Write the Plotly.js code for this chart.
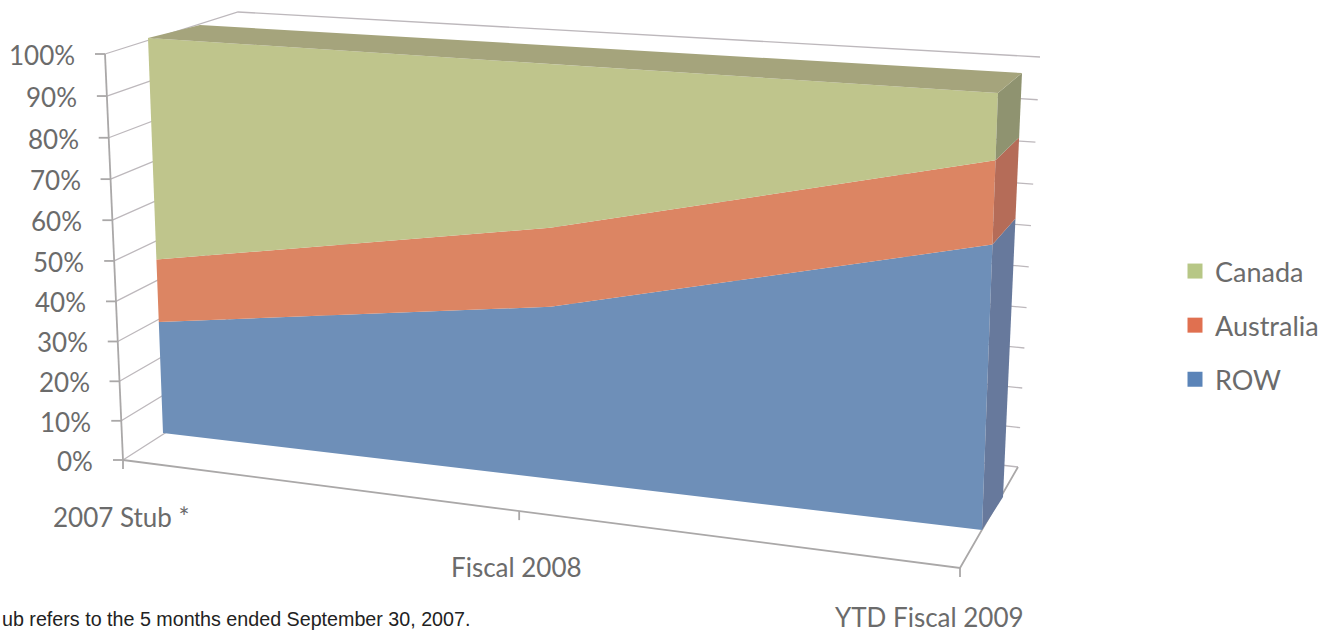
<!DOCTYPE html>
<html>
<head>
<meta charset="utf-8">
<script src="https://cdn.plot.ly/plotly-3.0.1.min.js"></script>
<style>html,body{margin:0;padding:0;background:#fff;overflow:hidden}</style>
</head>
<body>
<div id="chart" style="width:1338px;height:635px"></div>
<script>
// Share of revenue by region, percent of each period
const categories = ['2007 Stub *', 'Fiscal 2008', 'YTD Fiscal 2009'];
const row = [28.8, 42.4, 66.2];
const australia = [16, 19, 18.9];
const canada = [55.2, 38.6, 14.9];
const tickValues = [0, 10, 20, 30, 40, 50, 60, 70, 80, 90, 100];
const footnote = 'ub refers to the 5 months ended September 30, 2007.';

// Perspective planes of the 3-D box, corners in canvas units: [bottom-left, bottom-right, top-right, top-left]
const wallFront = planeMap([123, 460], [960, 568], [977, 119], [105, 54]);
const wallBack = planeMap([251, 378], [1018, 467], [1040, 57], [238, 12]);
const areaFront = planeMap([163, 433], [982, 530], [998, 93], [148, 38]);
const areaBack = planeMap([200, 403], [1003, 497], [1022, 73], [200, 25]);

// Projective map of the unit square (u along categories, v along value) on to a quadrilateral
function planeMap(a, b, c, d) {
  const dx1 = b[0] - c[0], dx2 = d[0] - c[0], sx = a[0] - b[0] + c[0] - d[0];
  const dy1 = b[1] - c[1], dy2 = d[1] - c[1], sy = a[1] - b[1] + c[1] - d[1];
  const den = dx1 * dy2 - dx2 * dy1;
  const g = (sx * dy2 - dx2 * sy) / den;
  const h = (dx1 * sy - sx * dy1) / den;
  const A = b[0] - a[0] + g * b[0], B = d[0] - a[0] + h * d[0];
  const D = b[1] - a[1] + g * b[1], E = d[1] - a[1] + h * d[1];
  return (u, v) => {
    const w = g * u + h * v + 1;
    return [(A * u + B * v + a[0]) / w, (D * u + E * v + a[1]) / w];
  };
}

function xy(points) {
  return { x: points.map(p => p ? p[0] : null), y: points.map(p => p ? p[1] : null) };
}

function polygon(points, color) {
  return Object.assign(xy(points), {
    type: 'scatter', mode: 'lines', fill: 'toself', fillcolor: color,
    line: { width: 0, color: color }, showlegend: false, hoverinfo: 'skip'
  });
}

function strokes(points, color, width) {
  return Object.assign(xy(points), {
    type: 'scatter', mode: 'lines', line: { color: color, width: width },
    connectgaps: false, showlegend: false, hoverinfo: 'skip'
  });
}

const uOf = i => i / (categories.length - 1);
const traces = [];

// Gridlines on the left and back walls
const grid = [];
tickValues.forEach(t => {
  const v = t / 100;
  grid.push(wallFront(0, v), wallBack(0, v), wallBack(1, v), null);
});
traces.push(strokes(grid, '#bdb8bc', 1.3));

// Floor edges, value axis and tick marks
const axes = [
  wallFront(0, 0), wallFront(1, 0), wallBack(1, 0), null,
  wallFront(0, 0), wallFront(0, 1), null
];
tickValues.forEach(t => {
  const p = wallFront(0, t / 100);
  axes.push([p[0] - 10, p[1]], p, null);
});
categories.forEach((c, i) => {
  const p = wallFront(uOf(i), 0);
  axes.push(p, [p[0], p[1] + 9], null);
});
traces.push(strokes(axes, '#aaa8a8', 1.8));

// Stacked bands: front face plus the slanted end face of each series
const series = [
  { name: 'ROW', values: row, front: '#6e8fb8', side: '#67799c', key: '#5b84b8' },
  { name: 'Australia', values: australia, front: '#dc8563', side: '#b56c58', key: '#e07050' },
  { name: 'Canada', values: canada, front: '#bfc58c', side: '#8f9370', key: '#b7c786' }
];
const base = categories.map(() => 0);
const last = categories.length - 1;
series.forEach(s => {
  const lower = base.slice();
  s.values.forEach((val, i) => { base[i] += val; });
  const lowerPts = lower.map((val, i) => areaFront(uOf(i), val / 100));
  const upperPts = base.map((val, i) => areaFront(uOf(i), val / 100));
  traces.push(polygon(lowerPts.concat(upperPts.slice().reverse()), s.front));
  traces.push(polygon([
    areaFront(1, lower[last] / 100), areaBack(1, lower[last] / 100),
    areaBack(1, base[last] / 100), areaFront(1, base[last] / 100)
  ], s.side));
});

// Top face over the 100% level
traces.push(polygon(base.map((val, i) => areaFront(uOf(i), val / 100)).concat(
  base.map((val, i) => areaBack(uOf(i), val / 100)).reverse()), '#a5a47c'));

// Legend keys, listed top to bottom as Canada, Australia, ROW
series.slice().reverse().forEach(s => {
  traces.push({
    type: 'scatter', mode: 'markers', x: [null], y: [null], name: s.name,
    legendgroup: s.name, marker: { symbol: 'square', size: 15, color: s.key }, hoverinfo: 'skip'
  });
});

const labelFont = { family: 'Lato, sans-serif', size: 26, color: '#6b6b6b' };
const annotations = [];
tickValues.forEach(t => {
  const p = wallFront(0, t / 100);
  annotations.push({
    x: p[0] - 28, y: p[1] + 1, text: t + '%', showarrow: false, xanchor: 'right', yanchor: 'middle', font: labelFont
  });
});
// Category labels sit below their floor ticks; the last one is pulled in to stay on the canvas
const labelOffsets = [[-2, 57], [-3, 56], [-31, 49]];
categories.forEach((c, i) => {
  const p = wallFront(uOf(i), 0);
  annotations.push({
    x: p[0] + labelOffsets[i][0], y: p[1] + labelOffsets[i][1], text: c, showarrow: false,
    xanchor: 'center', yanchor: 'middle', font: labelFont
  });
});
annotations.push({
  x: 0, y: 619, text: footnote, showarrow: false, xanchor: 'left', yanchor: 'middle',
  font: { family: 'Liberation Sans, Arial, sans-serif', size: 19.7, color: '#222222' }
});

const layout = {
  width: 1338, height: 635,
  margin: { l: 0, r: 0, t: 0, b: 0 },
  paper_bgcolor: '#ffffff', plot_bgcolor: '#ffffff',
  xaxis: { range: [0, 1338], visible: false, fixedrange: true },
  yaxis: { range: [635, 0], visible: false, fixedrange: true },
  legend: {
    x: 1175 / 1338, xanchor: 'left', y: 1 - 247 / 635, yanchor: 'top',
    font: { family: 'Lato, sans-serif', size: 27, color: '#6b6b6b' },
    tracegroupgap: 16, bgcolor: 'rgba(0,0,0,0)', traceorder: 'grouped'
  },
  showlegend: true,
  annotations: annotations
};

Plotly.newPlot('chart', traces, layout, { displayModeBar: false, staticPlot: true });
</script>
</body>
</html>
